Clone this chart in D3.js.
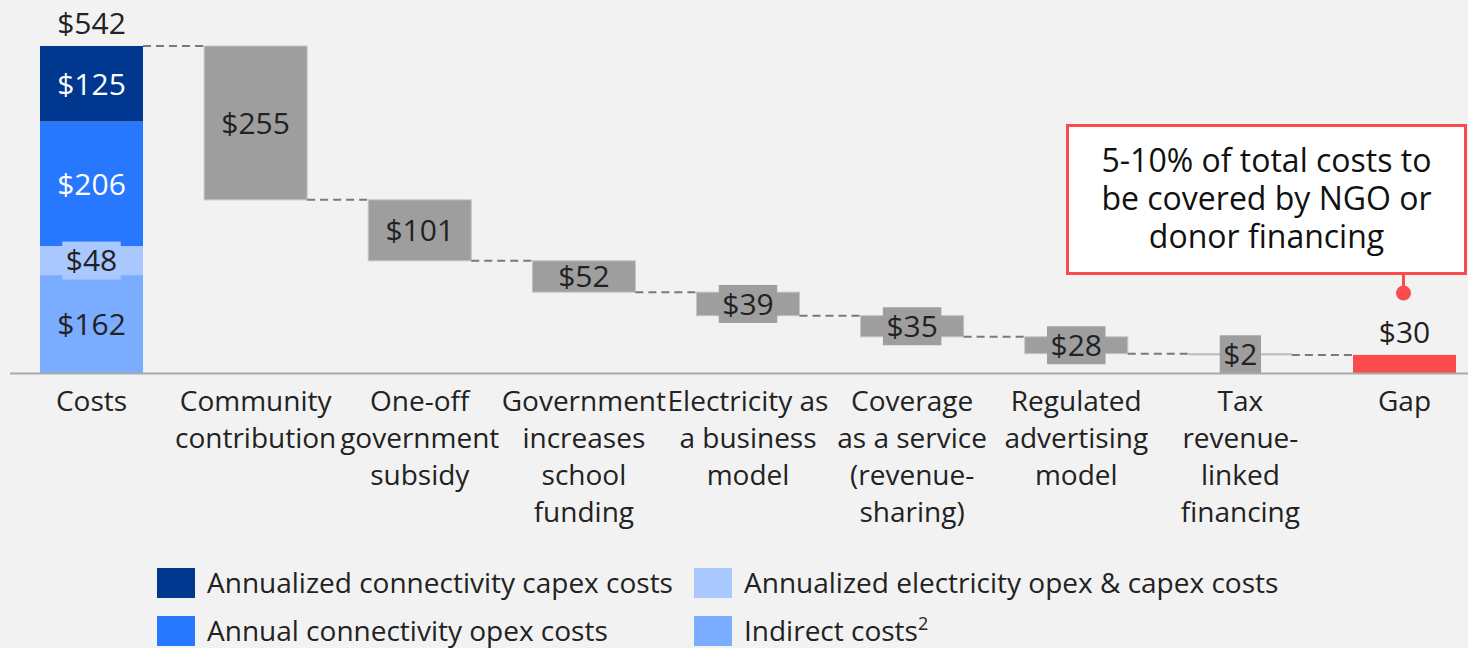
<!DOCTYPE html>
<html>
<head>
<meta charset="utf-8">
<script src="https://cdn.jsdelivr.net/npm/d3@7"></script>
<style>
  body { margin: 0; background: #f2f2f2; }
  svg { display: block; font-family: "Open Sans", sans-serif; }
</style>
</head>
<body>
<div id="chart"></div>
<script>
const width = 1468,
  height = 648;

// categories and their wrapped axis labels
const categories = ["Costs", "Community", "One-off", "Government", "Electricity", "Coverage", "Regulated", "Tax", "Gap"];
const axisLines = [
  ["Costs"],
  ["Community", "contribution"],
  ["One-off", "government", "subsidy"],
  ["Government", "increases", "school", "funding"],
  ["Electricity as", "a business", "model"],
  ["Coverage", "as a service", "(revenue-", "sharing)"],
  ["Regulated", "advertising", "model"],
  ["Tax", "revenue-", "linked", "financing"],
  ["Gap"]
];

// cost stack, bottom to top (rounded values, shown total is 542)
const costNames = ["Indirect costs", "Annualized electricity opex & capex costs", "Annual connectivity opex costs", "Annualized connectivity capex costs"];
const costValues = [162, 48, 206, 125];
const costColors = ["#7aacff", "#a8c8ff", "#2777ff", "#00378f"];
const costTextColors = ["#222", "#222", "#fff", "#fff"];
const totalCost = 542;

// funding steps (reductions) and remaining gap
const stepValues = [255, 101, 52, 39, 35, 28, 2];
const gapValue = 30;

const legendRows = [
  { name: "Annualized connectivity capex costs", color: "#00378f", col: 0, row: 0 },
  { name: "Annual connectivity opex costs", color: "#2777ff", col: 0, row: 1 },
  { name: "Annualized electricity opex & capex costs", color: "#a8c8ff", col: 1, row: 0 },
  { name: "Indirect costs", sup: "2", color: "#7aacff", col: 1, row: 1 }
];

const noteLines = ["5-10% of total costs to", "be covered by NGO or", "donor financing"];

const barW = 103;
const fontSize = 30;

const svg = d3.select("#chart").append("svg")
  .attr("width", width)
  .attr("height", height);

svg.append("rect").attr("width", width).attr("height", height).attr("fill", "#f2f2f2");

const x = d3.scalePoint().domain(categories).range([91.5, 1404.5]);
const y = d3.scaleLinear().domain([0, totalCost]).range([373, 46]);
// stack scaled so its top meets the shown total
const stackSum = d3.sum(costValues);
const ys = d3.scaleLinear().domain([0, stackSum]).range([373, 46]);

// label with optional background box
function barLabel(cx, cy, text, color, boxFill) {
  const g = svg.append("g");
  const t = g.append("text")
    .attr("x", cx)
    .attr("y", cy + fontSize * 0.36)
    .attr("text-anchor", "middle")
    .attr("font-size", fontSize)
    .attr("fill", color)
    .text(text);
  if (boxFill) {
    const w = t.node().getComputedTextLength() + 7;
    g.insert("rect", "text")
      .attr("x", cx - w / 2)
      .attr("y", cy - 19)
      .attr("width", w)
      .attr("height", 38)
      .attr("fill", boxFill);
  }
}

// Costs stacked bar
let acc = 0;
costValues.forEach((v, i) => {
  const y0 = ys(acc), y1 = ys(acc + v);
  svg.append("rect")
    .attr("x", x("Costs") - barW / 2)
    .attr("y", y1)
    .attr("width", barW)
    .attr("height", y0 - y1)
    .attr("fill", costColors[i]);
  acc += v;
});
acc = 0;
costValues.forEach((v, i) => {
  const y0 = ys(acc), y1 = ys(acc + v);
  barLabel(x("Costs"), (y0 + y1) / 2, "$" + v, costTextColors[i], (y0 - y1) < 30 ? costColors[i] : null);
  acc += v;
});
svg.append("text")
  .attr("x", x("Costs"))
  .attr("y", y(totalCost) - 12)
  .attr("text-anchor", "middle")
  .attr("font-size", fontSize)
  .attr("fill", "#222")
  .text("$" + totalCost);

// waterfall steps
let level = totalCost;
const connectors = [];
stepValues.forEach((v, i) => {
  const cat = categories[i + 1];
  const prev = categories[i];
  connectors.push({ from: prev, to: cat, value: level });
  const top = y(level), bottom = y(level - v);
  svg.append("rect")
    .attr("x", x(cat) - barW / 2)
    .attr("y", top)
    .attr("width", barW)
    .attr("height", bottom - top)
    .attr("fill", "#9e9e9e")
    .attr("stroke", "#c4c4c4")
    .attr("stroke-width", 1);
  level -= v;
});
connectors.push({ from: categories[7], to: "Gap", value: level });

connectors.forEach((c) => {
  svg.append("line")
    .attr("x1", x(c.from) + barW / 2)
    .attr("x2", x(c.to) - barW / 2)
    .attr("y1", y(c.value))
    .attr("y2", y(c.value))
    .attr("stroke", "#7a7a7a")
    .attr("stroke-width", 2)
    .attr("stroke-dasharray", "8,5");
});

level = totalCost;
stepValues.forEach((v, i) => {
  const cat = categories[i + 1];
  const top = y(level), bottom = y(level - v);
  barLabel(x(cat), (top + bottom) / 2, "$" + v, "#222", (bottom - top) < 30 ? "#9e9e9e" : null);
  level -= v;
});

// gap bar
svg.append("rect")
  .attr("x", x("Gap") - barW / 2)
  .attr("y", y(gapValue))
  .attr("width", barW)
  .attr("height", y(0) - y(gapValue))
  .attr("fill", "#fa4b4d");
svg.append("text")
  .attr("x", x("Gap"))
  .attr("y", y(gapValue) - 12)
  .attr("text-anchor", "middle")
  .attr("font-size", fontSize)
  .attr("fill", "#222")
  .text("$" + gapValue);

// baseline
svg.append("line")
  .attr("x1", 10).attr("x2", width)
  .attr("y1", y(0) + 0.5).attr("y2", y(0) + 0.5)
  .attr("stroke", "#aaaaaa")
  .attr("stroke-width", 2);

// category labels
categories.forEach((c, i) => {
  const t = svg.append("text")
    .attr("text-anchor", "middle")
    .attr("font-size", 28)
    .attr("fill", "#222");
  axisLines[i].forEach((line, j) => {
    t.append("tspan")
      .attr("x", x(c))
      .attr("y", 411 + j * 37)
      .text(line);
  });
});

// annotation
const note = svg.append("g");
note.append("line")
  .attr("x1", x("Gap") - 1).attr("x2", x("Gap") - 1)
  .attr("y1", 274).attr("y2", 293)
  .attr("stroke", "#fa4b4d")
  .attr("stroke-width", 3);
note.append("circle")
  .attr("cx", x("Gap") - 1)
  .attr("cy", 293)
  .attr("r", 7.5)
  .attr("fill", "#fa4b4d");
note.append("rect")
  .attr("x", 1067.5)
  .attr("y", 125.5)
  .attr("width", 398)
  .attr("height", 148)
  .attr("fill", "#ffffff")
  .attr("stroke", "#fa4b4d")
  .attr("stroke-width", 3);
noteLines.forEach((l, i) => {
  note.append("text")
    .attr("x", 1266.5)
    .attr("y", 172 + i * 38)
    .attr("text-anchor", "middle")
    .attr("font-size", 32)
    .attr("fill", "#111")
    .text(l);
});

// legend
const legend = svg.selectAll(".legend")
  .data(legendRows)
  .enter()
  .append("g")
  .attr("class", "legend")
  .attr("transform", (d) => `translate(${d.col === 0 ? 157 : 694}, ${568 + d.row * 48})`);

legend.append("rect")
  .attr("width", 38)
  .attr("height", 30)
  .attr("fill", (d) => d.color);

const lt = legend.append("text")
  .attr("x", 50)
  .attr("y", 25)
  .attr("font-size", 28)
  .attr("fill", "#222")
  .text((d) => d.name);
lt.filter((d) => d.sup)
  .append("tspan")
  .attr("font-size", 18)
  .attr("dy", -11)
  .text((d) => d.sup);
</script>
</body>
</html>
